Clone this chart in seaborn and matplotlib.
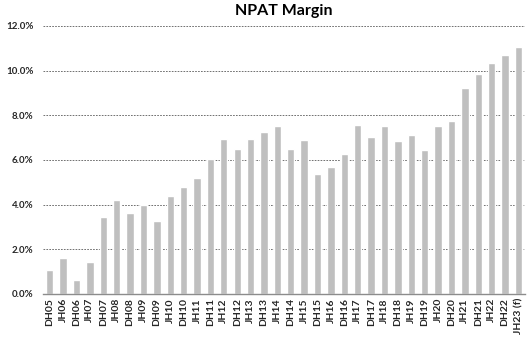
import matplotlib
matplotlib.use("Agg")
import matplotlib.pyplot as plt
from matplotlib.ticker import FuncFormatter
import seaborn as sns
import pandas as pd

periods = ["DH05", "JH06", "DH06", "JH07", "DH07", "JH08", "DH08", "JH09", "DH09",
           "JH10", "DH10", "JH11", "DH11", "JH12", "DH12", "JH13", "DH13", "JH14",
           "DH14", "JH15", "DH15", "JH16", "DH16", "JH17", "DH17", "JH18", "DH18",
           "JH19", "DH19", "JH20", "DH20", "JH21", "DH21", "JH22", "DH22", "JH23 (f)"]
npat_margin = [1.07, 1.60, 0.63, 1.43, 3.45, 4.20, 3.63, 3.98, 3.28,
               4.37, 4.77, 5.17, 6.06, 6.95, 6.47, 6.95, 7.23, 7.54,
               6.50, 6.90, 5.39, 5.70, 6.28, 7.57, 7.04, 7.54, 6.86,
               7.12, 6.46, 7.53, 7.75, 9.21, 9.84, 10.33, 10.69, 11.04]
y_ticks = [0, 2, 4, 6, 8, 10, 12]

df = pd.DataFrame({"period": periods, "margin": npat_margin})

sns.set_style("white")
plt.rcParams["font.family"] = ["Lato", "DejaVu Sans"]

fig = plt.figure(figsize=(5.31, 3.41), dpi=100)
ax = fig.add_axes([0.081, 0.138, 0.908, 0.786])

sns.barplot(data=df, x="period", y="margin", color="#BFBFBF", saturation=1,
            width=0.55, ax=ax, zorder=3)

ax.set_ylim(0, 12)
ax.set_xlim(-0.5, len(periods) - 0.5)
ax.set_yticks(y_ticks)
ax.yaxis.set_major_formatter(FuncFormatter(lambda v, _: f"{v:.1f}%"))
ax.yaxis.grid(True, linestyle=(0, (2, 1.5)), color="#595959", linewidth=0.6, zorder=0)
ax.xaxis.grid(False)

for side in ["top", "right", "left"]:
    ax.spines[side].set_visible(False)
ax.spines["bottom"].set_color("#8C8C8C")
ax.spines["bottom"].set_linewidth(1.0)
ax.spines["bottom"].set_zorder(4)

ax.tick_params(axis="y", length=0, pad=7, labelsize=7, labelcolor="#262626")
ax.tick_params(axis="x", length=0, pad=3, labelsize=7.5, labelcolor="#262626")
for lbl in ax.get_yticklabels() + ax.get_xticklabels():
    lbl.set_fontweight("bold")
plt.setp(ax.get_xticklabels(), rotation=90)

ax.set_xlabel("")
ax.set_ylabel("")
# Title centred over the plotting area
ax_box = ax.get_position()
fig.text((ax_box.x0 + ax_box.x1) / 2, 0.967, "NPAT Margin", ha="center", va="center",
         fontsize=11.5, fontweight="bold", color="#000000")

fig.savefig("out.png", dpi=100)
